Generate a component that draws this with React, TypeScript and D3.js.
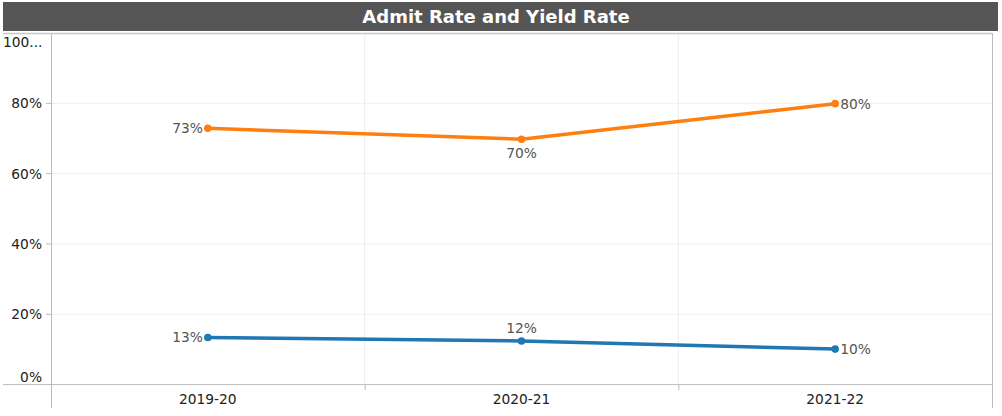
import React from "react";
import * as d3 from "d3";

const categories = ["2019-20", "2020-21", "2021-22"];
const admitRate = [13.4, 12.4, 10.1];
const yieldRate = [72.9, 69.8, 79.9];
const yTicks = [0, 20, 40, 60, 80, 100];
const title = "Admit Rate and Yield Rate";

const W = 1002;
const H = 416;
const FONT = "Verdana, 'DejaVu Sans', sans-serif";
const FS = 13.8;

export default function App() {
  const left = 51, right = 992, top = 33, bottom = 384.6;
  const x = d3.scaleBand<string>().domain(categories).range([left, right]).padding(0);
  const y = d3.scaleLinear().domain([0, 100]).range([bottom, top]);
  const cx = (c: string) => (x(c) as number) + x.bandwidth() / 2;
  const line = d3.line<number>().x((_, i) => cx(categories[i])).y((v) => y(v));
  const fmt = (v: number) => `${Math.round(v)}%`;

  const series = [
    { name: "Yield Rate", values: yieldRate, color: "#ff7f0e", mid: "below" },
    { name: "Admit Rate", values: admitRate, color: "#1f77b4", mid: "above" },
  ];

  const boundaries = categories.slice(1).map((c) => x(c) as number);

  return (
    <svg width={W} height={H} style={{ position: "absolute", left: 0, top: 0, display: "block" }}>
      <rect x={0} y={0} width={W} height={H} fill="#fff" />
      <rect x={3} y={2} width={995} height={29} fill="#555555" />
      <text x={496} y={22.5} textAnchor="middle" fill="#fff" fontFamily={FONT} fontWeight="bold" fontSize={18}>
        {title}
      </text>
      {/* gridlines */}
      {yTicks.slice(1, -1).map((t) => (
        <line key={t} x1={left} x2={right} y1={y(t)} y2={y(t)} stroke="#efefef" strokeWidth={1} />
      ))}
      {boundaries.map((b, i) => (
        <line key={i} x1={b} x2={b} y1={top} y2={bottom} stroke="#ececec" strokeWidth={1} />
      ))}
      {/* frame */}
      <line x1={3} x2={right} y1={top + 0.5} y2={top + 0.5} stroke="#c8c8c8" strokeWidth={1.5} />
      <line x1={right + 0.5} x2={right + 0.5} y1={top} y2={408} stroke="#bbb" strokeWidth={1} />
      <line x1={left + 0.5} x2={left + 0.5} y1={top} y2={408} stroke="#bbb" strokeWidth={1} />
      <line x1={3} x2={right} y1={bottom} y2={bottom} stroke="#bbb" strokeWidth={1} />
      {boundaries.map((b, i) => (
        <line key={"t" + i} x1={b + 0.5} x2={b + 0.5} y1={bottom} y2={390} stroke="#bbb" strokeWidth={1} />
      ))}
      {/* y axis */}
      {yTicks.map((t) => {
        const ty = y(t);
        let ly = ty + 5;
        if (t === 0) ly = bottom - 3;
        if (t === 100) ly = top + 14;
        return (
          <g key={t}>
            {t !== 0 && t !== 100 && (
              <line x1={46} x2={left} y1={ty} y2={ty} stroke="#bbb" strokeWidth={1} />
            )}
            {t === 100 ? (
              <text x={3} y={ly} fill="#222" fontFamily={FONT} fontSize={FS}>
                100...
              </text>
            ) : (
              <text x={42} y={ly} textAnchor="end" fill="#222" fontFamily={FONT} fontSize={FS}>
                {`${t}%`}
              </text>
            )}
          </g>
        );
      })}
      {/* x axis labels */}
      {categories.map((c) => (
        <text key={c} x={cx(c)} y={403.5} textAnchor="middle" fill="#222" fontFamily={FONT} fontSize={FS}>
          {c}
        </text>
      ))}
      {/* series */}
      {series.map((s) => (
        <g key={s.name}>
          <path d={line(s.values) as string} fill="none" stroke={s.color} strokeWidth={3.5} strokeLinejoin="round" />
          {s.values.map((v, i) => {
            const px = cx(categories[i]);
            const py = y(v);
            let tx = px, ty = py + 5, anchor: "start" | "middle" | "end" = "middle";
            if (i === 0) { tx = px - 5; anchor = "end"; }
            else if (i === categories.length - 1) { tx = px + 5; anchor = "start"; }
            else { ty = s.mid === "below" ? py + 19 : py - 8; }
            return (
              <g key={i}>
                <circle cx={px} cy={py} r={3.8} fill={s.color} />
                <text x={tx} y={ty} textAnchor={anchor} fill="#555" fontFamily={FONT} fontSize={FS}>
                  {fmt(v)}
                </text>
              </g>
            );
          })}
        </g>
      ))}
    </svg>
  );
}
